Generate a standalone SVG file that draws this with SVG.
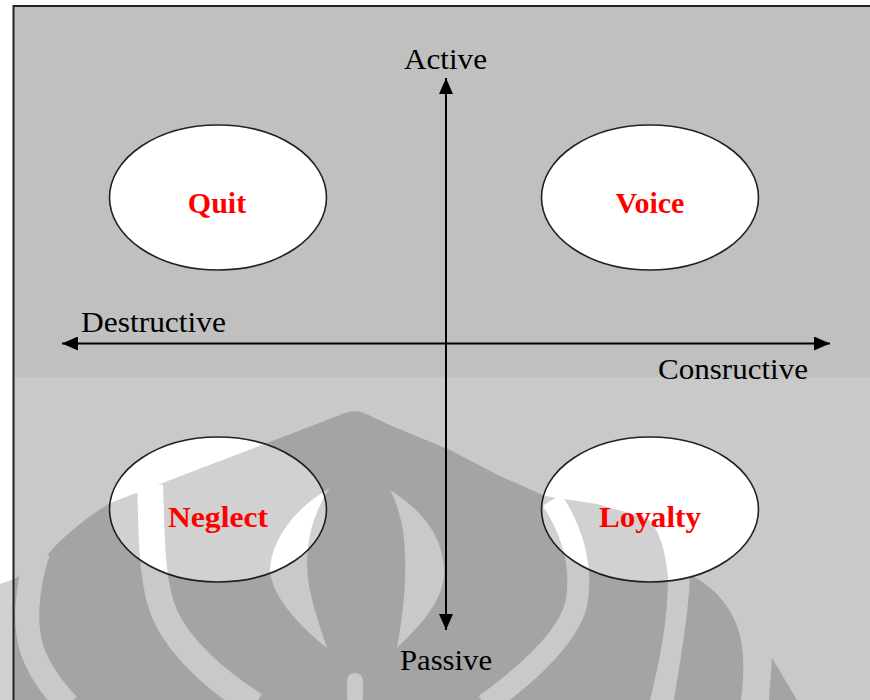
<svg xmlns="http://www.w3.org/2000/svg" xmlns:xlink="http://www.w3.org/1999/xlink" width="870" height="700" viewBox="0 0 870 700">
  <style>
    .axis { stroke: #000; stroke-width: 2; fill: none; }
    .node { fill: #fff; stroke: #222; stroke-width: 1.6; }
    .lbl { font-family: "Liberation Serif", "Times New Roman", serif; font-size: 30px; fill: #000; }
    .nlbl { font-family: "Liberation Serif", "Times New Roman", serif; font-size: 30px; font-weight: bold; fill: #f00; text-anchor: middle; }
  </style>
  <defs>
    <marker id="ah" markerUnits="userSpaceOnUse" markerWidth="16" markerHeight="14" refX="16" refY="7" orient="auto">
      <path d="M0,0 L16,7 L0,14 Z" fill="#000"/>
    </marker>
    <mask id="wmMask" maskUnits="userSpaceOnUse" x="0" y="370" width="870" height="330">
      <rect x="0" y="370" width="870" height="330" fill="#000"/>
      <g fill="#fff">
        <path d="M0 584 C20 578 38 566 50 552 C62 538 85 518 110 503 L340 415 C348 411 356 410 364 413 L392 426 L450 450 L500 476 L545 496 L597 504 L647 518 C660 530 665 550 668 576 C668 620 660 660 650 700 L0 700 Z"/>
        <path d="M690 575 C712 585 735 608 741 640 C745 660 743 685 741 700 L674 700 C680 660 688 620 690 575 Z"/>
        <path d="M772 658 L797 700 L769 700 Z"/>
      </g>
      <g fill="none" stroke="#000">
        <path d="M150 485 C152 530 150 580 165 615 C180 648 215 680 255 705" stroke-width="26"/>
        <path d="M38 552 C26 590 24 625 32 650 C40 672 52 688 68 705" stroke-width="24"/>
        <path d="M552 500 C572 530 582 565 577 600 C572 630 540 665 485 705" stroke-width="22"/>
      </g>
      <g fill="#000">
        <path d="M330 488 C300 505 272 535 270 570 C272 600 305 630 327 648 C318 620 308 595 307 565 C307 535 315 510 330 488 Z"/>
        <path d="M390 490 C430 515 445 545 444 575 C442 605 415 630 397 648 C404 610 408 570 403 530 C400 515 396 500 390 490 Z"/>
        <rect x="347" y="673" width="16" height="32" rx="8"/>
      </g>
    </mask>
    <rect id="wmShade" x="0" y="370" width="870" height="330" fill="#000" fill-opacity="0.18" mask="url(#wmMask)"/>
    <clipPath id="clipNeglect"><ellipse cx="218" cy="509.5" rx="108.5" ry="72.5"/></clipPath>
    <clipPath id="clipLoyalty"><ellipse cx="650" cy="509.5" rx="108.5" ry="72.5"/></clipPath>
  </defs>

  <g id="background">
    <rect x="0" y="0" width="870" height="700" fill="#fff"/>
    <rect x="13" y="6" width="857" height="371" fill="#c0c0c0"/>
    <rect x="13" y="377" width="857" height="323" fill="#c9c9c9"/>
    <use xlink:href="#wmShade" href="#wmShade"/>
    <path d="M13.5 700 V6 H870" fill="none" stroke="#222" stroke-width="2"/>
  </g>

  <g id="connectors">
    <path class="axis" d="M446 343.5 V78" marker-end="url(#ah)"/>
    <path class="axis" d="M446 343.5 V630" marker-end="url(#ah)"/>
    <path class="axis" d="M446 343.5 H62" marker-end="url(#ah)"/>
    <path class="axis" d="M446 343.5 H830" marker-end="url(#ah)"/>
  </g>

  <g id="axis-labels">
    <text class="lbl" x="404" y="69" textLength="83" lengthAdjust="spacingAndGlyphs">Active</text>
    <text class="lbl" x="81" y="332" textLength="145" lengthAdjust="spacingAndGlyphs">Destructive</text>
    <text class="lbl" x="658" y="379" textLength="150" lengthAdjust="spacingAndGlyphs">Consructive</text>
    <text class="lbl" x="400" y="670" textLength="92" lengthAdjust="spacingAndGlyphs">Passive</text>
  </g>

  <g id="node-quit">
    <ellipse class="node" cx="218" cy="197.5" rx="108.5" ry="72.5"/>
    <text class="nlbl" x="217" y="213">Quit</text>
  </g>

  <g id="node-voice">
    <ellipse class="node" cx="650" cy="197.5" rx="108.5" ry="72.5"/>
    <text class="nlbl" x="650" y="213">Voice</text>
  </g>

  <g id="node-neglect">
    <ellipse class="node" cx="218" cy="509.5" rx="108.5" ry="72.5"/>
    <use xlink:href="#wmShade" href="#wmShade" clip-path="url(#clipNeglect)"/>
    <text class="nlbl" x="218" y="527" textLength="100" lengthAdjust="spacingAndGlyphs">Neglect</text>
  </g>

  <g id="node-loyalty">
    <ellipse class="node" cx="650" cy="509.5" rx="108.5" ry="72.5"/>
    <use xlink:href="#wmShade" href="#wmShade" clip-path="url(#clipLoyalty)"/>
    <text class="nlbl" x="650" y="527" textLength="102" lengthAdjust="spacingAndGlyphs">Loyalty</text>
  </g>
</svg>
